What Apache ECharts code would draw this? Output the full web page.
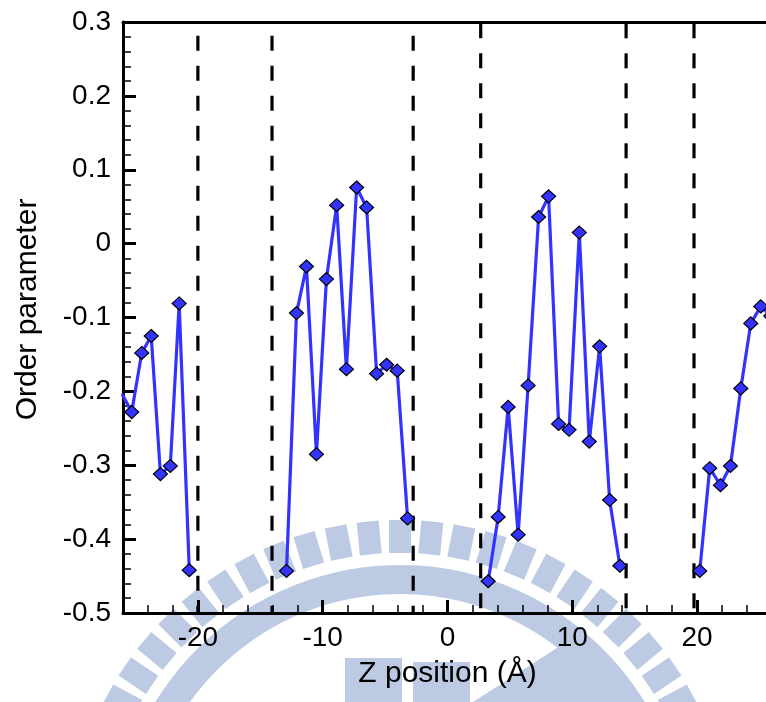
<!DOCTYPE html>
<html>
<head>
<meta charset="utf-8">
<script src="https://cdn.jsdelivr.net/npm/echarts@6/dist/echarts.min.js"></script>
<style>
html,body{margin:0;padding:0;background:#fff;}
#chart{width:766px;height:702px;}
</style>
</head>
<body>
<div id="chart"></div>
<script>
// ---- data ----
const seg1X = [-26.1, -25.3, -24.5, -23.74, -23.0, -22.21, -21.5, -20.69];
const seg1Y = [-0.203, -0.228, -0.148, -0.125, -0.312, -0.301, -0.081, -0.442];
const seg2X = [-12.9, -12.1, -11.3, -10.5, -9.7, -8.88, -8.1, -7.28, -6.48, -5.68, -4.88, -4.03, -3.2];
const seg2Y = [-0.443, -0.094, -0.031, -0.285, -0.048, 0.052, -0.170, 0.076, 0.049, -0.176, -0.164, -0.172, -0.372];
const seg3X = [3.26, 4.06, 4.86, 5.66, 6.46, 7.3, 8.1, 8.9, 9.74, 10.56, 11.36, 12.19, 12.99, 13.81];
const seg3Y = [-0.457, -0.370, -0.221, -0.394, -0.192, 0.036, 0.064, -0.244, -0.252, 0.015, -0.268, -0.139, -0.347, -0.436];
const seg4X = [20.21, 21.01, 21.87, 22.67, 23.5, 24.3, 25.1, 25.9];
const seg4Y = [-0.443, -0.304, -0.327, -0.301, -0.196, -0.108, -0.085, -0.098];
const boundaryX = [-20.0, -14.06, -2.75, 2.66, 14.31, 19.75];
const xRange = [-26, 26];
const yRange = [-0.5, 0.3];
const yStep = 0.1;
const xMinorStep = 2;

const FONT = '"Liberation Sans", Arial, Helvetica, sans-serif';
const BLUE = '#3333ff';
const WM = '#bccae3';

function pairs(xs, ys) { return xs.map((x, i) => [x, ys[i]]); }

const segments = [pairs(seg1X, seg1Y), pairs(seg2X, seg2Y), pairs(seg3X, seg3Y), pairs(seg4X, seg4Y)];

const dashOffsets = [16.3, 16.3, 16.3, 28.7, 28.7, 28.7];

const series = [];
boundaryX.forEach((bx, i) => {
  series.push({
    type: 'line',
    xAxisIndex: 0,
    data: [[bx, yRange[1]], [bx, yRange[0]]],
    symbol: 'none',
    silent: true,
    z: 3,
    lineStyle: { color: '#000', width: 3.2, type: [15, 15], dashOffset: dashOffsets[i] }
  });
});
segments.forEach(seg => {
  series.push({
    type: 'line',
    xAxisIndex: 0,
    data: seg,
    symbol: 'diamond',
    symbolSize: [14, 13],
    showAllSymbol: true,
    clip: true,
    z: 4,
    lineStyle: { color: BLUE, width: 3.2 },
    itemStyle: { color: BLUE, borderColor: '#000', borderWidth: 1.2 }
  });
});

// faint background watermark (emblem), purely decorative
const wm = [];
const cx = 400, cy = 852;
for (let a = -84; a <= 84; a += 5.6) {
  wm.push({
    type: 'rect', z: -10, silent: true,
    x: cx, y: cy, rotation: -a * Math.PI / 180,
    shape: { x: -11, y: -332, width: 22, height: 33 },
    style: { fill: WM }
  });
}
wm.push({ type: 'sector', z: -10, silent: true,
  shape: { cx: cx, cy: cy, r0: 258, r: 287, startAngle: Math.PI * 1.02, endAngle: Math.PI * 1.98 },
  style: { fill: WM } });
wm.push({ type: 'rect', z: -10, silent: true, shape: { x: 345, y: 658, width: 57, height: 50 }, style: { fill: WM } });
wm.push({ type: 'rect', z: -10, silent: true, shape: { x: 413, y: 662, width: 57, height: 46 }, style: { fill: WM } });
wm.push({ type: 'polygon', z: -10, silent: true, shape: { points: [[473, 702], [560, 646], [640, 702]] }, style: { fill: WM } });

const chart = echarts.init(document.getElementById('chart'), null, { renderer: 'canvas' });
chart.setOption({
  animation: false,
  backgroundColor: '#fff',
  graphic: { elements: wm },
  grid: { left: 123, top: 22, width: 649, height: 591, containLabel: false, outerBoundsMode: 'none' },
  xAxis: [
    { // minor ticks every 2 units
      type: 'value', position: 'bottom', min: xRange[0], max: xRange[1], interval: xMinorStep,
      axisLine: { show: true, onZero: false, lineStyle: { color: '#000', width: 3 } },
      axisTick: { show: true, inside: true, length: 8, lineStyle: { color: '#000', width: 1.5 } },
      axisLabel: { show: false },
      splitLine: { show: false }
    },
    { // major ticks + labels
      type: 'value', position: 'bottom', min: xRange[0], max: xRange[1], splitNumber: 5,
      axisLine: { show: false, onZero: false },
      axisTick: { show: true, inside: true, length: 13, lineStyle: { color: '#000', width: 3 } },
      axisLabel: { show: true, showMinLabel: false, showMaxLabel: false, margin: 11,
        color: '#000', fontFamily: FONT, fontSize: 28 },
      splitLine: { show: false },
      name: 'Z position (Å)', nameLocation: 'middle', nameGap: 46,
      nameTextStyle: { color: '#000', fontFamily: FONT, fontSize: 30 }
    },
    { // top frame line
      type: 'value', position: 'top', min: xRange[0], max: xRange[1],
      axisLine: { show: true, onZero: false, lineStyle: { color: '#000', width: 3 } },
      axisTick: { show: false }, axisLabel: { show: false }, splitLine: { show: false }
    }
  ],
  yAxis: {
    type: 'value', position: 'left', min: yRange[0], max: yRange[1], interval: yStep,
    axisLine: { show: true, onZero: false, lineStyle: { color: '#000', width: 3 } },
    axisTick: { show: true, inside: true, length: 13, lineStyle: { color: '#000', width: 3 } },
    minorTick: { show: true, splitNumber: 5, length: 8, lineStyle: { color: '#000', width: 1.5 } },
    axisLabel: { margin: 12, color: '#000', fontFamily: FONT, fontSize: 28,
      formatter: v => (Math.abs(v) < 1e-9 ? '0' : (+v.toFixed(1)).toString()) },
    splitLine: { show: false },
    minorSplitLine: { show: false },
    name: 'Order parameter', nameLocation: 'middle', nameGap: 80,
    nameTextStyle: { color: '#000', fontFamily: FONT, fontSize: 30, padding: [0, 0, 0, 16] }
  },
  series: series
});
</script>
</body>
</html>
